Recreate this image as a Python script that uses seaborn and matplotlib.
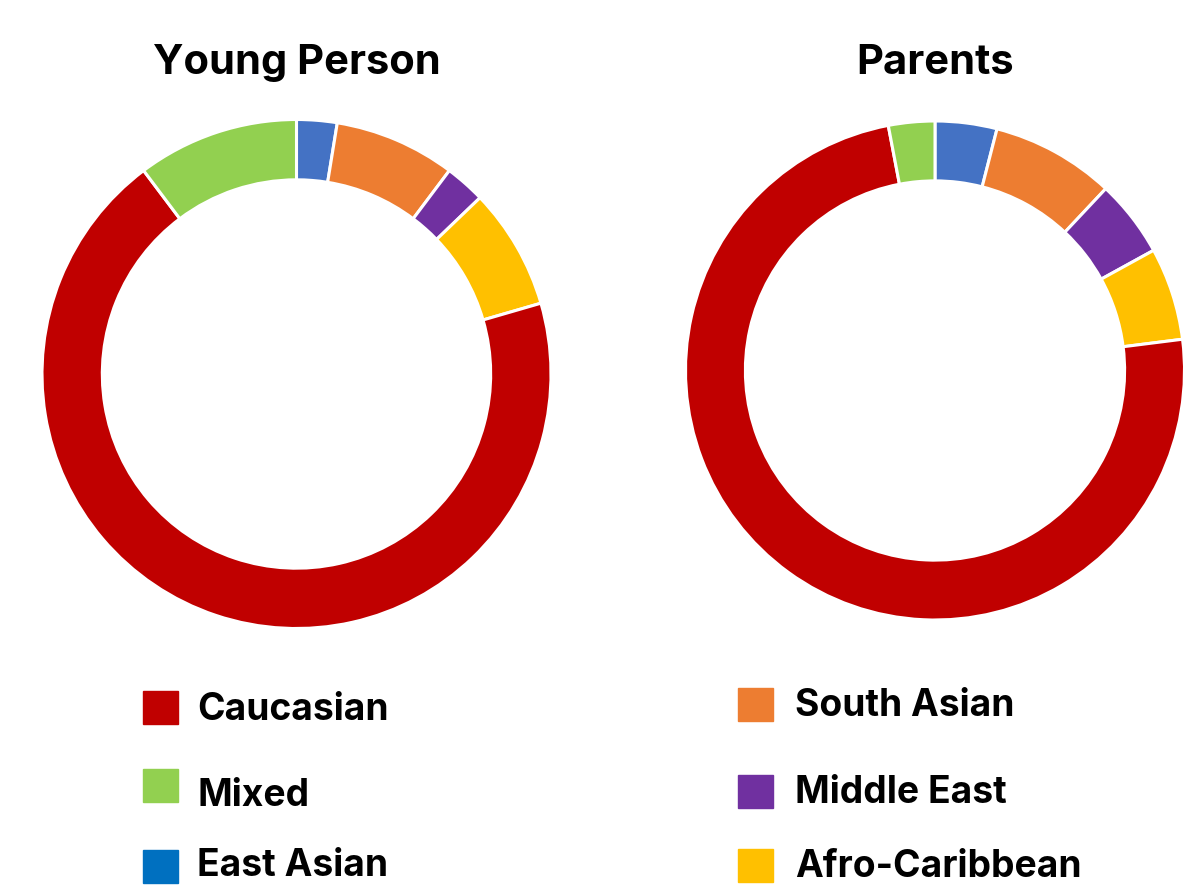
import matplotlib
matplotlib.use("Agg")
import matplotlib.pyplot as plt
import seaborn as sns
from matplotlib.patches import Rectangle

# categories in drawing order (clockwise from 12 o'clock)
categories = ["East Asian", "South Asian", "Middle East", "Afro-Caribbean", "Caucasian", "Mixed"]
young_person = [1, 3, 1, 3, 27, 4]          # counts (~39 total)
parents = [4, 8, 5, 6, 74, 3]               # percentages

wedge_colors = ["#4472C4", "#ED7D31", "#7030A0", "#FFC000", "#C00000", "#92D050"]

# legend columns as laid out in the picture
legend_left = ["Caucasian", "Mixed", "East Asian"]
legend_right = ["South Asian", "Middle East", "Afro-Caribbean"]
legend_colors = {"Caucasian": "#C00000", "Mixed": "#92D050", "East Asian": "#0070C0",
                 "South Asian": "#ED7D31", "Middle East": "#7030A0", "Afro-Caribbean": "#FFC000"}

sns.set_theme(style="white")
plt.rcParams['font.family'] = ['Inter', 'DejaVu Sans']

W, H = 1197, 886
fig = plt.figure(figsize=(W / 100, H / 100), dpi=100)


def donut(cx, cy, r, ring, values, title):
    # cx, cy, r in pixels (y from top)
    ax = fig.add_axes([(cx - r) / W, (H - cy - r) / H, 2 * r / W, 2 * r / H])
    ax.pie(values, colors=wedge_colors, startangle=90, counterclock=False,
           radius=1, wedgeprops=dict(width=ring, edgecolor="white", linewidth=2.2))
    ax.set_xlim(-1, 1)
    ax.set_ylim(-1, 1)
    ax.set_aspect("auto")
    ax.axis("off")
    fig.text(cx / W, 1 - 63 / H, title, ha="center", va="center",
             fontsize=30, fontweight="bold", color="black")


donut(296.5, 374, 254.5, 0.237, young_person, "Young Person")
donut(935, 370.5, 249.5, 0.24, parents, "Parents")


def legend_column(x_box, x_text, box_ys, text_ys, labels):
    for yb, yt, lab in zip(box_ys, text_ys, labels):
        fig.patches.append(Rectangle((x_box / W, 1 - (yb + 16.5) / H), 35 / W, 33 / H,
                                     transform=fig.transFigure, color=legend_colors[lab]))
        fig.text(x_text / W, 1 - (yt + 1) / H, lab, ha="left", va="center",
                 fontsize=26.8, fontweight="bold", color="black")


legend_column(143, 197, [707, 785, 866], [709, 795, 865], legend_left)
legend_column(738, 795, [704, 791, 865], [705, 792, 866], legend_right)

fig.savefig("out.png", dpi=100, facecolor="white")
